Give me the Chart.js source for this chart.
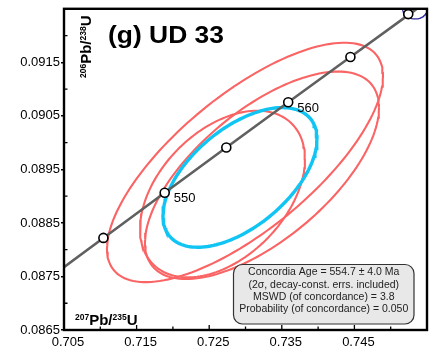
<!DOCTYPE html>
<html>
<head>
<meta charset="utf-8">
<script src="https://cdn.jsdelivr.net/npm/chart.js@4.4.1/dist/chart.umd.min.js"></script>
<style>
  html, body { margin: 0; padding: 0; background: #fff; }
  #wrap { width: 439px; height: 351px; }
</style>
</head>
<body>
<div id="wrap"><canvas id="concordia"></canvas></div>
<script>
// concordia curve, 5 Ma steps (207Pb/235U, 206Pb/238U)
const ages  = [540, 545, 550, 555, 560, 565, 570, 575];
const concX = [0.702025, 0.710427, 0.718871, 0.727356, 0.735883, 0.744452, 0.753063, 0.761717];
const concY = [0.087376, 0.088220, 0.089064, 0.089909, 0.090755, 0.091601, 0.092448, 0.093296];

// age markers on the curve
const markerX = [0.710427, 0.718871, 0.727356, 0.735883, 0.744452, 0.75242];
const markerY = [0.088220, 0.089064, 0.089909, 0.090755, 0.091601, 0.092401];
const markerLabels = ['', '550', '', '560', '', ''];

// sample error ellipses (centre, 2s half extents, rho)
const ellCx  = [0.72993, 0.73227, 0.72683];
const ellCy  = [0.08963, 0.08939, 0.08904];
const ellSx  = [0.01901, 0.01612, 0.01136];
const ellSy  = [0.002236, 0.001938, 0.001556];
const ellRho = [0.72, 0.65, 0.42];

// highlighted ellipse (cyan)
const hiEll = [0.72924, 0.08935, 0.01061, 0.001304, 0.55];
// small ellipse cut by the top edge
const topEll = [0.75335, 0.09250, 0.00170, 0.00019, 0.0];

const xTickLabels = [0.705, 0.715, 0.725, 0.735, 0.745];
const xInnerTicks = [0.710, 0.715, 0.720, 0.725, 0.730, 0.735, 0.740, 0.745, 0.750];
const yTickLabels = [0.0865, 0.0875, 0.0885, 0.0895, 0.0905, 0.0915];
const yInnerTicks = [0.0870, 0.0880, 0.0890, 0.0900, 0.0910, 0.0920];

const statLines = [
  'Concordia Age = 554.7 \u00b1 4.0 Ma',
  '(2\u03c3, decay-const. errs. included)',
  'MSWD (of concordance) = 3.8',
  'Probability (of concordance) = 0.050'
];

function ellipsePoints(cx, cy, sx, sy, rho) {
  const pts = [];
  const k = Math.sqrt(1 - rho * rho);
  for (let i = 0; i <= 160; i++) {
    const t = i / 160 * 2 * Math.PI;
    pts.push({ x: cx + sx * Math.cos(t), y: cy + sy * (rho * Math.cos(t) + k * Math.sin(t)) });
  }
  return pts;
}

function lineSet(data, color, width, order) {
  return {
    data, showLine: true, borderColor: color, borderWidth: width,
    pointRadius: 0, fill: false, tension: 0, order
  };
}

const datasets = [];
datasets.push({
  data: markerX.map((x, i) => ({ x, y: markerY[i] })),
  pointRadius: 4.5, pointBackgroundColor: '#fff', pointBorderColor: '#000',
  pointBorderWidth: 1.6, showLine: false, order: 0
});
datasets.push(lineSet(concX.map((x, i) => ({ x, y: concY[i] })), '#606060', 2.6, 1));
datasets.push(lineSet(ellipsePoints(...hiEll), '#10c4f4', 3.4, 2));
ellCx.forEach((cx, i) => {
  datasets.push(lineSet(ellipsePoints(cx, ellCy[i], ellSx[i], ellSy[i], ellRho[i]), '#fa6464', 2.1, 3));
});
datasets.push(lineSet(ellipsePoints(...topEll), '#2a2a9a', 1.2, 3));

function drawRuns(ctx, runs, x, y) {
  ctx.textAlign = 'left';
  ctx.textBaseline = 'alphabetic';
  runs.forEach(([txt, sup]) => {
    ctx.font = sup ? 'bold 8.5px "Liberation Sans", Arial, sans-serif' : 'bold 15px "Liberation Sans", Arial, sans-serif';
    ctx.fillText(txt, x, sup ? y - 5 : y);
    x += ctx.measureText(txt).width;
  });
}

const decor = {
  id: 'decor',
  afterDatasetsDraw(chart) {
    const { ctx, chartArea: a, scales: { x, y } } = chart;
    ctx.save();
    ctx.strokeStyle = '#000';
    ctx.fillStyle = '#000';

    // inward ticks
    ctx.lineWidth = 1.3;
    ctx.beginPath();
    xInnerTicks.forEach(v => {
      const px = x.getPixelForValue(v);
      const len = xTickLabels.some(t => Math.abs(t - v) < 1e-6) ? 5 : 3.5;
      ctx.moveTo(px, a.bottom); ctx.lineTo(px, a.bottom - len);
    });
    yInnerTicks.forEach(v => {
      const py = y.getPixelForValue(v);
      ctx.moveTo(a.left, py); ctx.lineTo(a.left + 3.5, py);
    });
    ctx.stroke();

    // frame
    ctx.lineWidth = 2.4;
    ctx.strokeRect(a.left, a.top, a.right - a.left, a.bottom - a.top);

    // age labels
    ctx.font = '13px "Liberation Sans", Arial, sans-serif';
    ctx.textAlign = 'left';
    ctx.textBaseline = 'middle';
    markerLabels.forEach((lab, i) => {
      if (!lab) return;
      ctx.fillText(lab, x.getPixelForValue(markerX[i]) + 9, y.getPixelForValue(markerY[i]) + 6);
    });

    // sample title, stretched a bit wide like the original
    ctx.font = 'bold 23px "Liberation Sans", Arial, sans-serif';
    ctx.textBaseline = 'alphabetic';
    const title = '(g) UD 33';
    const sx = 116 / ctx.measureText(title).width;
    ctx.save();
    ctx.translate(108, 43);
    ctx.scale(sx, 1);
    ctx.fillText(title, 0, 0);
    ctx.restore();

    // axis titles inside the frame
    drawRuns(ctx, [['207', true], ['Pb/', false], ['235', true], ['U', false]], 75, 325);
    ctx.save();
    ctx.translate(91, 78);
    ctx.rotate(-Math.PI / 2);
    drawRuns(ctx, [['206', true], ['Pb/', false], ['238', true], ['U', false]], 0, 0);
    ctx.restore();

    // statistics box
    const bx = 233.5, by = 264.5, bw = 180.5, bh = 59.5;
    ctx.beginPath();
    ctx.roundRect(bx, by, bw, bh, 9);
    ctx.fillStyle = '#e8e8e8';
    ctx.fill();
    ctx.lineWidth = 1.2;
    ctx.strokeStyle = '#333';
    ctx.stroke();
    ctx.fillStyle = '#222';
    ctx.font = '10.5px "Liberation Sans", Arial, sans-serif';
    ctx.textAlign = 'center';
    ctx.textBaseline = 'middle';
    statLines.forEach((s, i) => ctx.fillText(s, bx + bw / 2, 272.5 + i * 12.35));
    ctx.restore();
  }
};

const tickFont = { family: '"Liberation Sans", Arial, sans-serif', size: 13 };

new Chart(document.getElementById('concordia'), {
  type: 'scatter',
  data: { datasets },
  options: {
    responsive: true,
    maintainAspectRatio: false,
    animation: false,
    events: [],
    layout: { padding: { top: 8, right: 12, left: 0, bottom: 0 } },
    plugins: { legend: { display: false }, tooltip: { enabled: false } },
    scales: {
      x: {
        type: 'linear', min: 0.705, max: 0.755,
        afterBuildTicks: s => { s.ticks = xTickLabels.map(v => ({ value: v })); },
        afterFit: s => { s.height = 21; },
        ticks: { font: tickFont, color: '#000', padding: -3, labelOffset: 4, maxRotation: 0, autoSkip: false,
                 callback: v => v.toFixed(3) },
        grid: { display: false },
        border: { display: false }
      },
      y: {
        type: 'linear', min: 0.0865, max: 0.0925,
        afterBuildTicks: s => { s.ticks = yTickLabels.map(v => ({ value: v })); },
        afterFit: s => { s.width = 64; },
        ticks: { font: tickFont, color: '#000', padding: 1, autoSkip: false,
                 callback: v => v.toFixed(4) },
        grid: { display: true, drawOnChartArea: false, drawTicks: true, tickLength: 3, color: '#000', lineWidth: 1.5 },
        border: { display: false }
      }
    }
  },
  plugins: [decor]
});
</script>
</body>
</html>
